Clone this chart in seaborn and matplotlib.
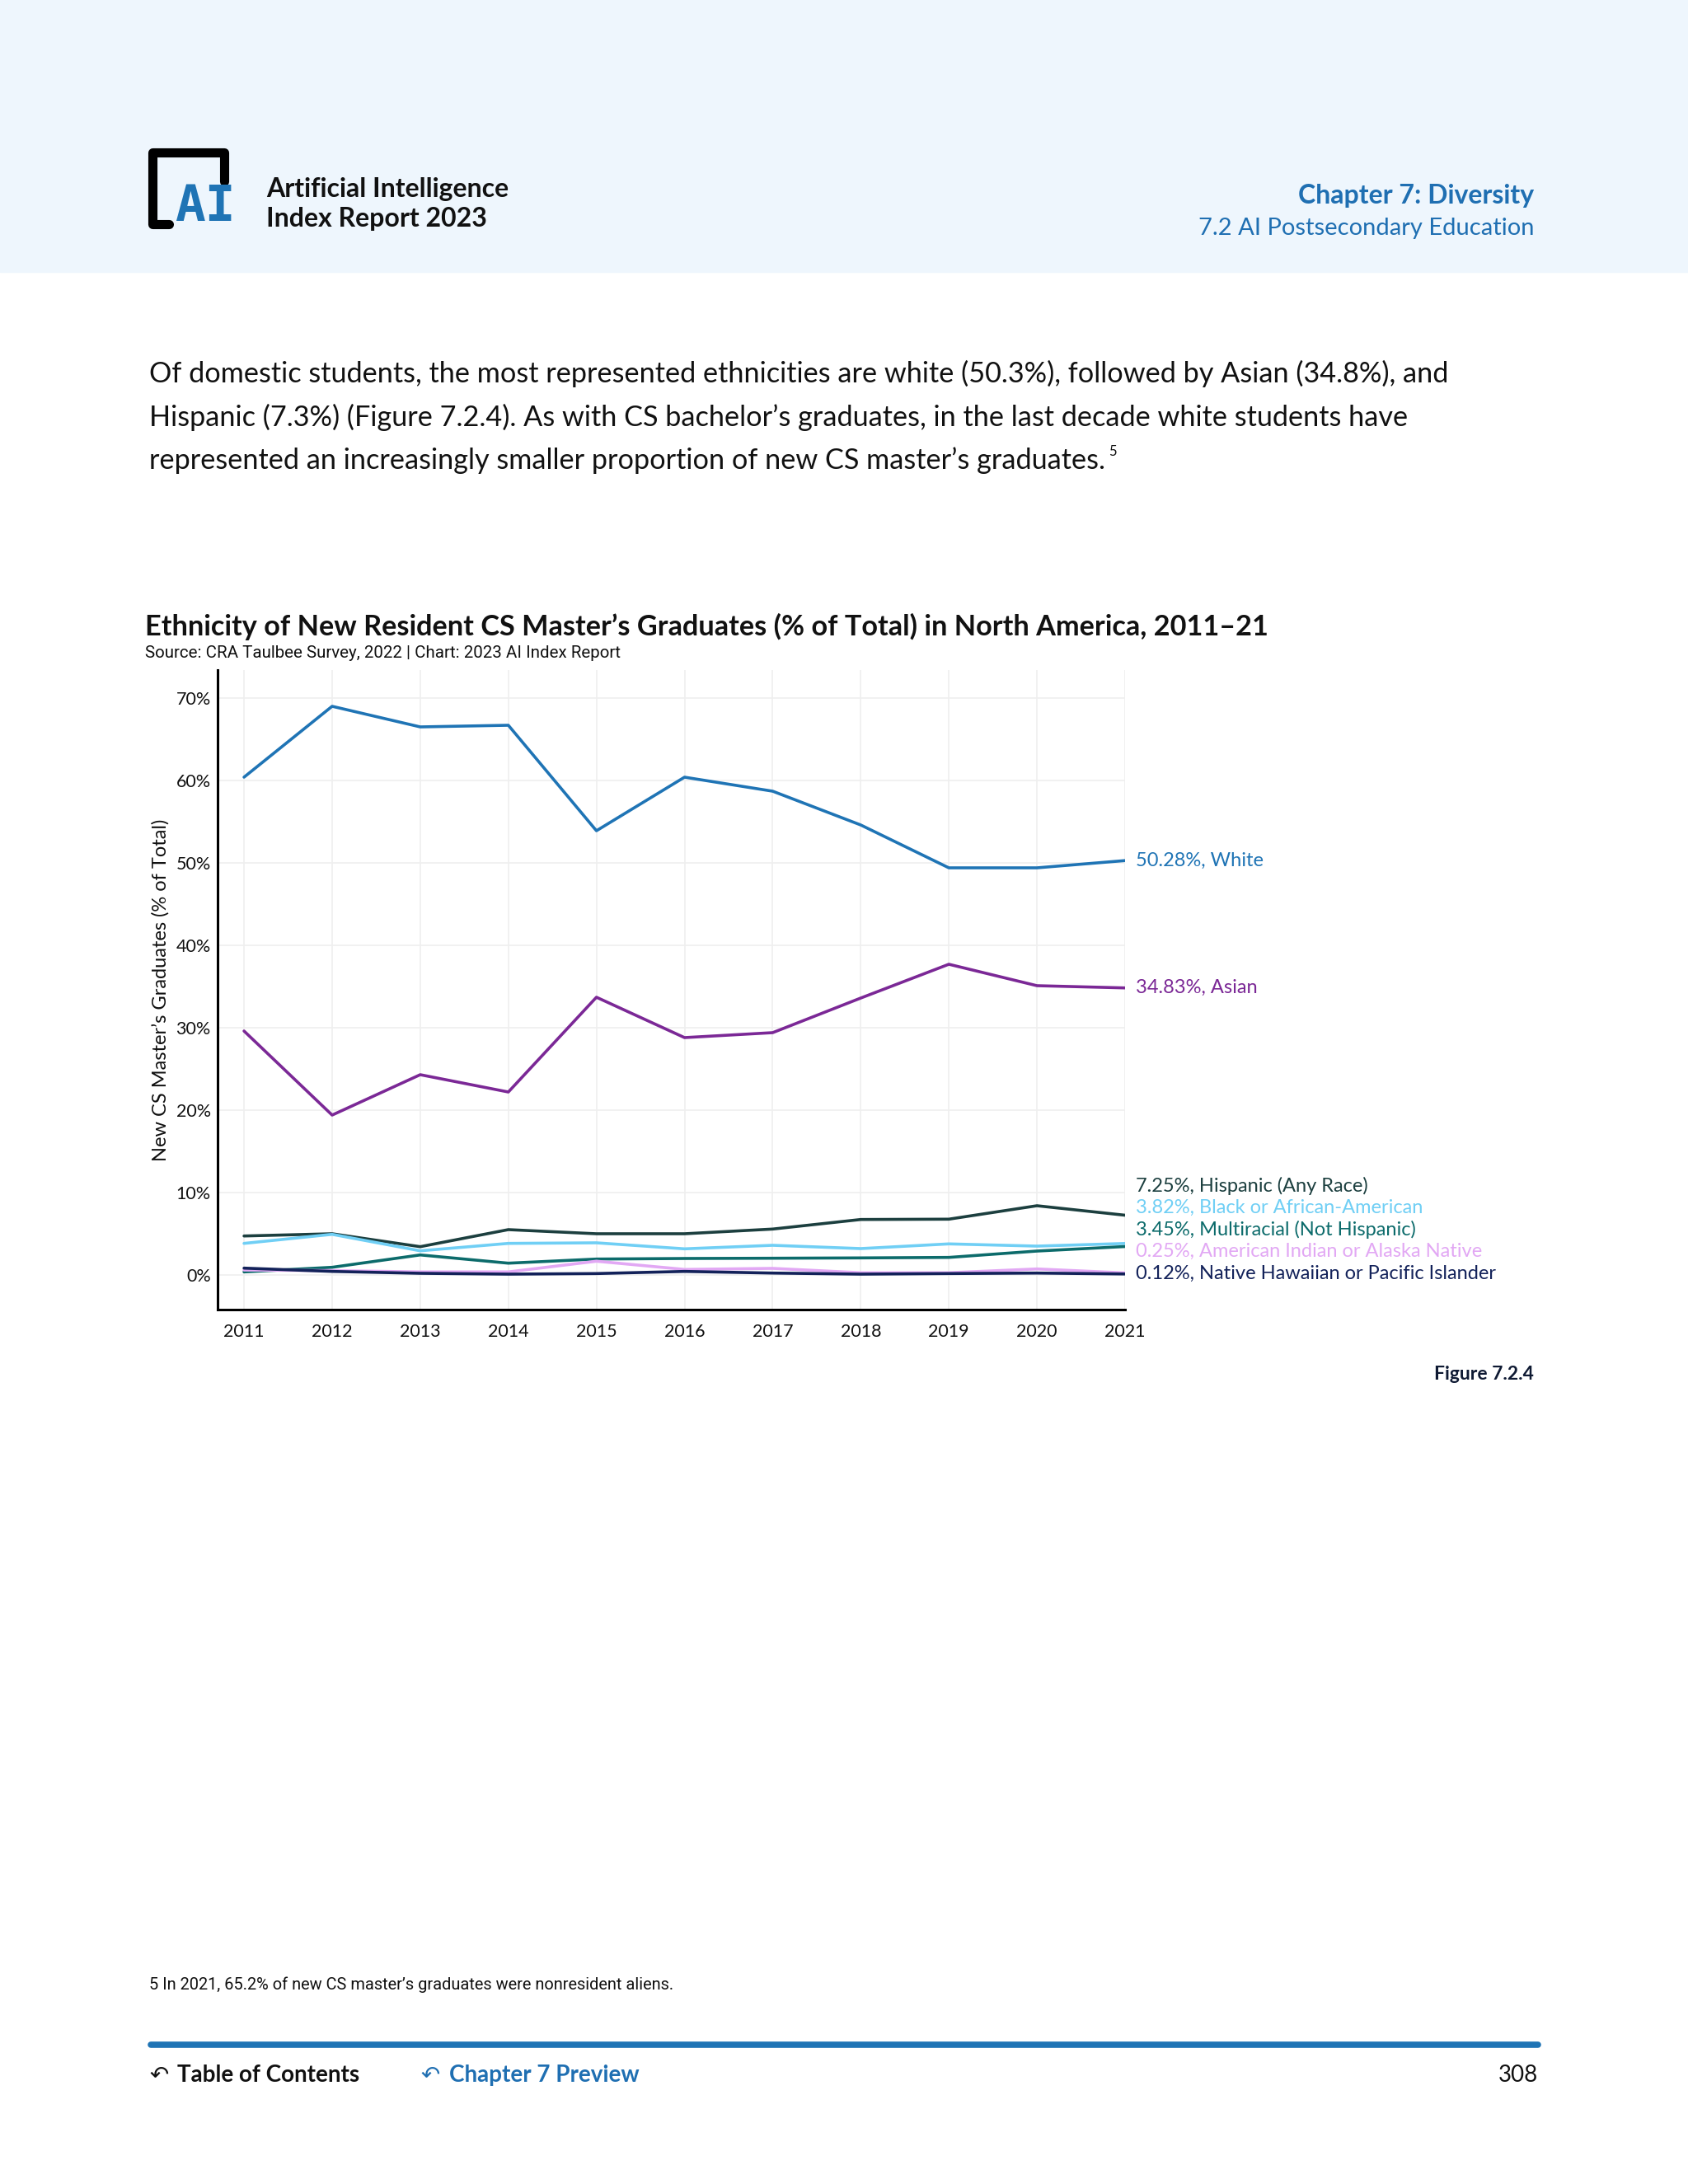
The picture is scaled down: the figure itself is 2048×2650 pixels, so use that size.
import pandas as pd
import matplotlib.pyplot as plt
import seaborn as sns
from matplotlib.lines import Line2D
from matplotlib.patches import Rectangle

years = list(range(2011, 2022))
white = [60.4, 69.0, 66.5, 66.7, 53.9, 60.4, 58.7, 54.6, 49.4, 49.4, 50.28]
asian = [29.6, 19.4, 24.3, 22.2, 33.7, 28.8, 29.4, 33.6, 37.7, 35.1, 34.83]
hispanic = [4.73, 5.0, 3.43, 5.5, 5.0, 5.0, 5.57, 6.73, 6.77, 8.4, 7.25]
black = [3.83, 4.93, 2.93, 3.83, 3.9, 3.17, 3.6, 3.2, 3.77, 3.5, 3.82]
multiracial = [0.37, 0.93, 2.43, 1.43, 1.93, 2.0, 2.03, 2.07, 2.13, 2.9, 3.45]
am_indian = [0.6, 0.53, 0.37, 0.37, 1.67, 0.67, 0.8, 0.27, 0.27, 0.73, 0.25]
hawaiian = [0.83, 0.43, 0.2, 0.1, 0.17, 0.43, 0.23, 0.1, 0.17, 0.23, 0.12]

groups = ["White", "Asian", "Hispanic (Any Race)", "Black or African-American",
          "Multiracial (Not Hispanic)", "American Indian or Alaska Native",
          "Native Hawaiian or Pacific Islander"]
series = [white, asian, hispanic, black, multiracial, am_indian, hawaiian]
colors = ["#1f74b5", "#7b2896", "#1c3f3f", "#70cff5", "#0c6b6b", "#e2a8f4", "#13225a"]

df = pd.DataFrame({
    "Year": years * len(groups),
    "Share": [v for s in series for v in s],
    "Group": [g for g in groups for _ in years],
})

W, H = 2048, 2650
sns.set_style("white")
plt.rcParams["font.family"] = ["Lato", "DejaVu Sans"]

fig = plt.figure(figsize=(W / 100, H / 100), dpi=100)


def fx(x):
    return x / W


def fy(y):
    return 1 - y / H


# header band
fig.patches.append(Rectangle((0, fy(330)), 1, 330 / H, transform=fig.transFigure,
                             color="#eef6fd", zorder=0))

# logo
blk = dict(color="black", lw=8, solid_capstyle="round", solid_joinstyle="round",
           transform=fig.transFigure)
fig.lines.append(Line2D([fx(272), fx(272), fx(185), fx(185), fx(205)],
                        [fy(220), fy(185), fy(185), fy(272), fy(272)], **blk))
fig.text(fx(249), fy(252), "AI", color="#1f74b5", fontsize=44, fontweight="bold",
         family="DejaVu Sans Mono", ha="center", va="center")

fig.text(fx(323), fy(230), "Artificial Intelligence", fontsize=23, fontweight="bold",
         va="center", color="#111111")
fig.text(fx(323), fy(266), "Index Report 2023", fontsize=23, fontweight="bold",
         va="center", color="#111111")
fig.text(fx(1861), fy(238), "Chapter 7: Diversity", fontsize=23, fontweight="bold",
         ha="right", va="center", color="#1f6fb2")
fig.text(fx(1861), fy(277), "7.2 AI Postsecondary Education", fontsize=21,
         ha="right", va="center", color="#1f6fb2")

para = [
    "Of domestic students, the most represented ethnicities are white (50.3%), followed by Asian (34.8%), and",
    "Hispanic (7.3%) (Figure 7.2.4). As with CS bachelor\u2019s graduates, in the last decade white students have",
    "represented an increasingly smaller proportion of new CS master\u2019s graduates.",
]
for i, line in enumerate(para):
    last = fig.text(fx(181), fy(453 + i * 53), line, fontsize=24.7, va="center", color="#111111")
fig.canvas.draw()
bb = last.get_window_extent()
fig.text(fx(bb.x1 + 4), fy(548), "5", fontsize=12, va="center", color="#111111")

fig.text(fx(176), fy(760), "Ethnicity of New Resident CS Master\u2019s Graduates (% of Total) in North America, 2011\u201321",
         fontsize=24.7, fontweight="bold", va="center", color="#111111")
fig.text(fx(176), fy(793), "Source: CRA Taulbee Survey, 2022 | Chart: 2023 AI Index Report",
         fontsize=14.8, va="center", color="#111111", family="Roboto")

ax = fig.add_axes([fx(264), fy(1589), fx(1365) - fx(264), (1589 - 813) / H])
sns.lineplot(data=df, x="Year", y="Share", hue="Group", hue_order=groups,
             palette=dict(zip(groups, colors)), linewidth=2.6, legend=False, ax=ax)

ax.set_xlim(2010.7, 2021)
ax.set_ylim(-4.2, 73.4)
ax.set_xticks(years)
ax.set_yticks(range(0, 71, 10))
ax.set_yticklabels([f"{v}%" for v in range(0, 71, 10)])
ax.tick_params(length=0, labelsize=15.5, labelcolor="#111111")
ax.tick_params(axis="y", pad=6)
ax.tick_params(axis="x", pad=12)
ax.grid(True, color="#efefef", lw=1.2)
ax.set_axisbelow(True)
for side in ["top", "right"]:
    ax.spines[side].set_visible(False)
for side in ["left", "bottom"]:
    ax.spines[side].set_color("black")
    ax.spines[side].set_linewidth(2.2)
ax.set_xlabel("")
ax.set_ylabel("New CS Master\u2019s Graduates (% of Total)", fontsize=17, color="#111111", labelpad=6)

label_y = [white[-1], asian[-1], 10.8, 8.15, 5.5, 2.85, 0.2]
for g, s, c, ly in zip(groups, series, colors, label_y):
    ax.annotate(f"{s[-1]:.2f}%, {g}", xy=(2021, ly), xytext=(9, 0),
                textcoords="offset points", va="center", ha="left",
                fontsize=17, color=c, annotation_clip=False)

fig.text(fx(1861), fy(1668), "Figure 7.2.4", fontsize=16.5, fontweight="bold",
         ha="right", va="center", color="#0f1a33")

fig.text(fx(181), fy(2408), "5 In 2021, 65.2% of new CS master\u2019s graduates were nonresident aliens.",
         fontsize=14.4, va="center", color="#111111", family="Roboto")
fig.lines.append(Line2D([fx(183), fx(1866)], [fy(2481), fy(2481)], color="#1f74b5", lw=5.5,
                        solid_capstyle="round", transform=fig.transFigure))
fig.text(fx(181), fy(2518), "\u21b6", fontsize=20, va="center", color="#111111", family="DejaVu Sans")
fig.text(fx(215), fy(2518), "Table of Contents", fontsize=20, fontweight="bold",
         va="center", color="#111111")
fig.text(fx(510), fy(2518), "\u21b6", fontsize=20, va="center", color="#1f6fb2", family="DejaVu Sans")
fig.text(fx(545), fy(2518), "Chapter 7 Preview", fontsize=20, fontweight="bold",
         va="center", color="#1f6fb2")
fig.text(fx(1866), fy(2518), "308", fontsize=20, ha="right", va="center", color="#111111")

fig.savefig("out.png", dpi=100, facecolor="white")
